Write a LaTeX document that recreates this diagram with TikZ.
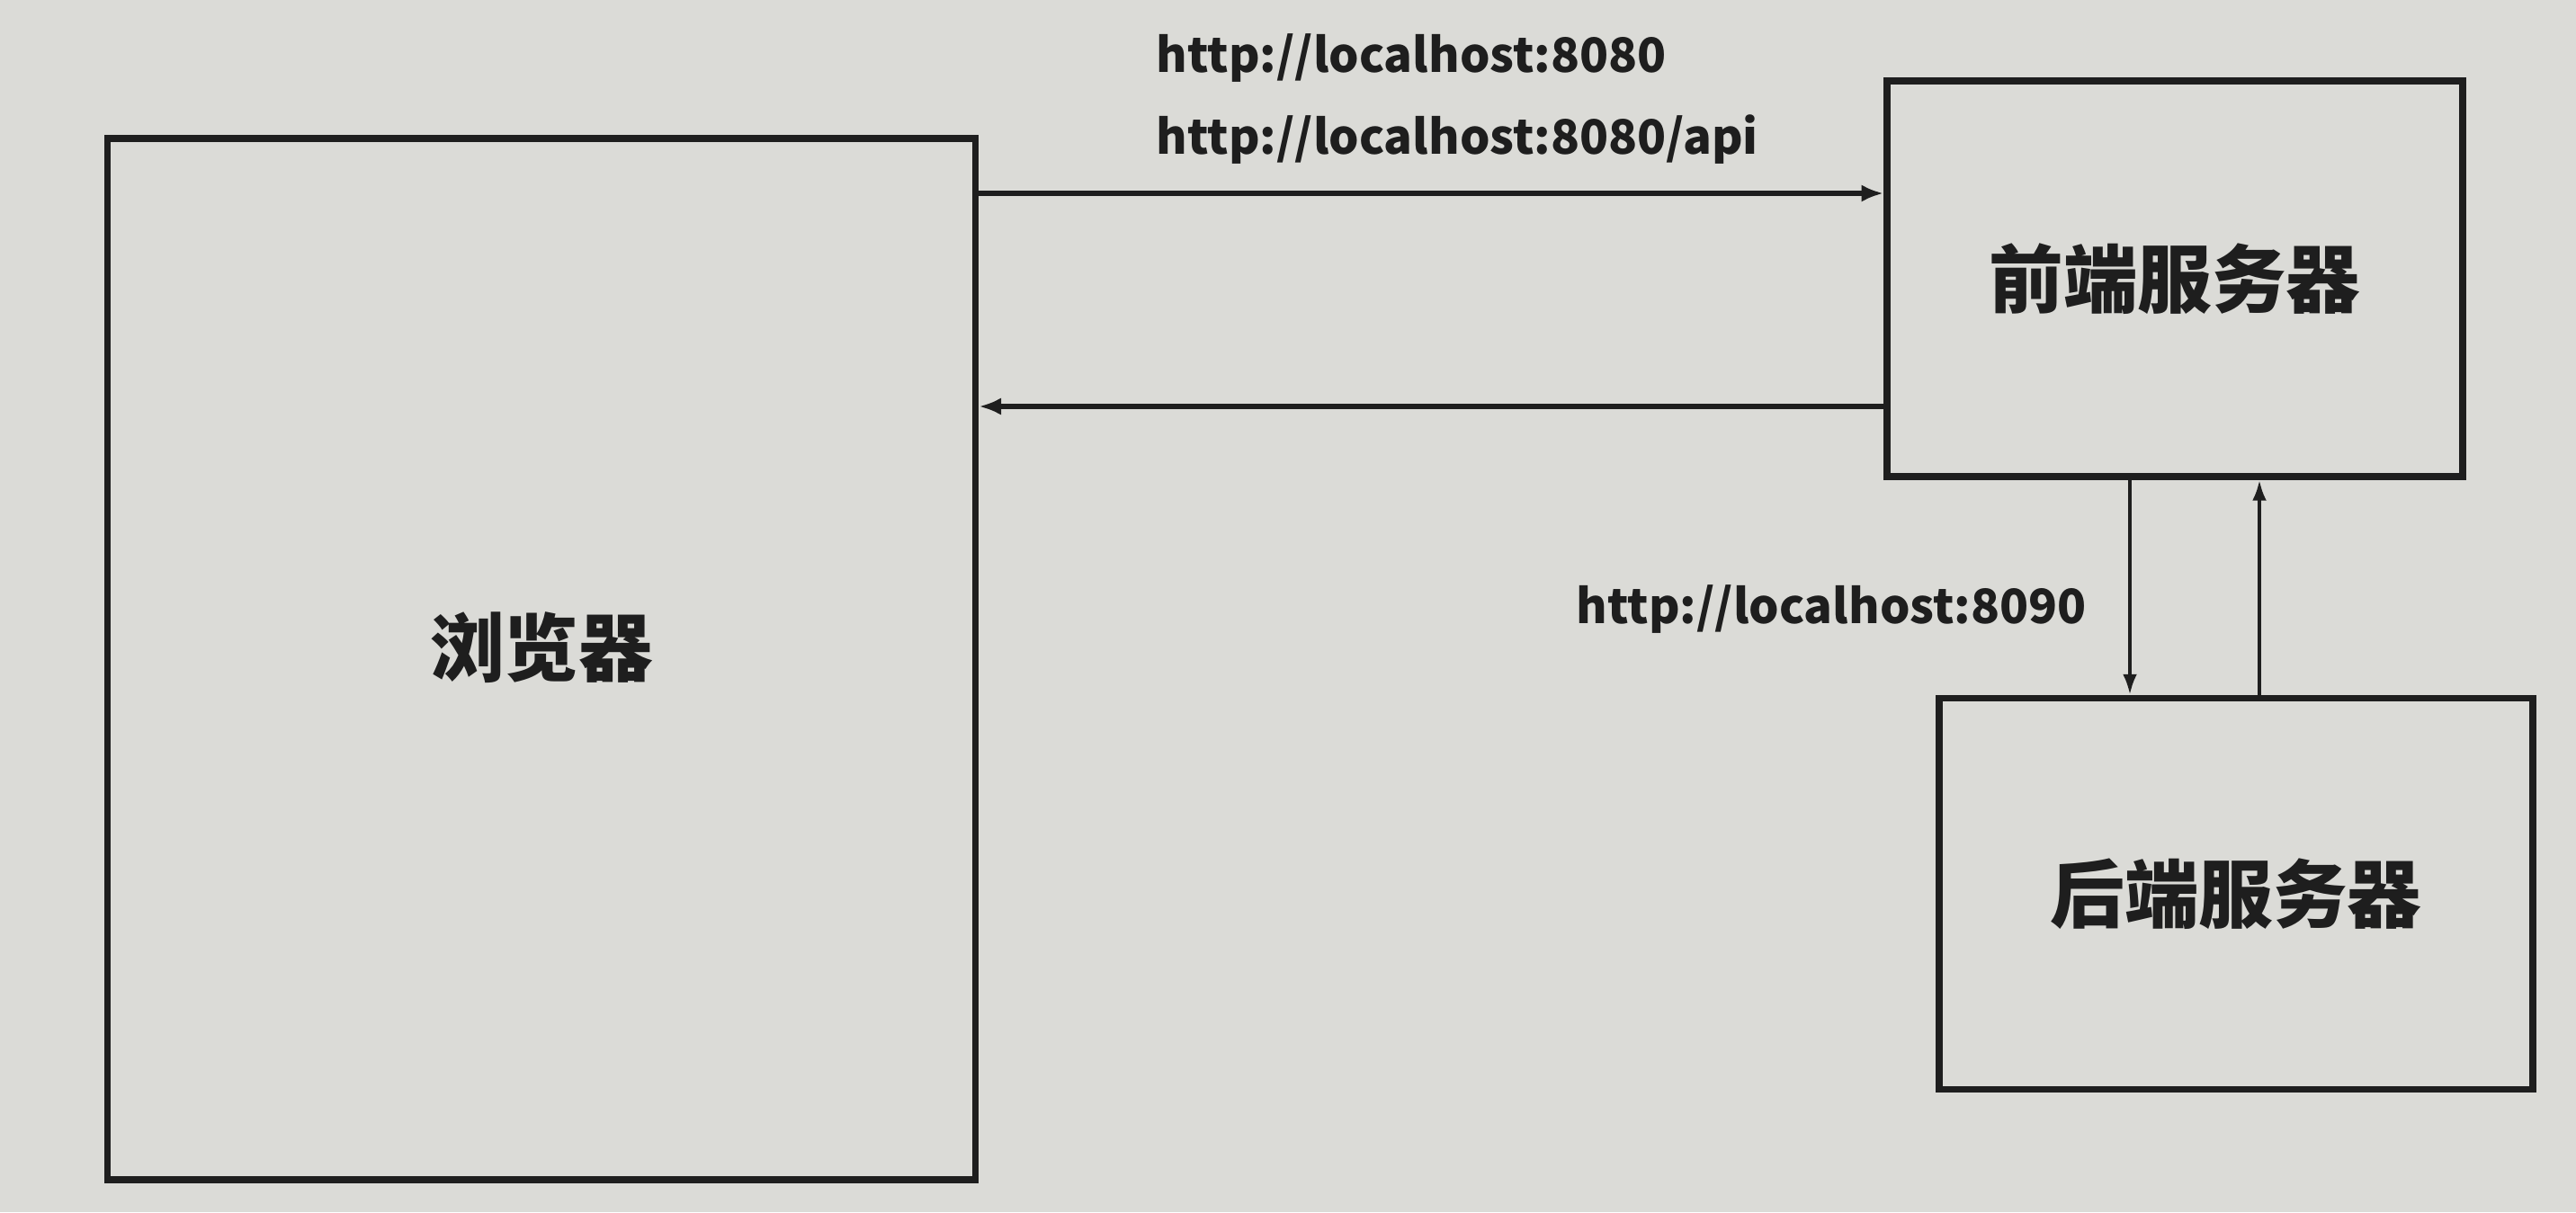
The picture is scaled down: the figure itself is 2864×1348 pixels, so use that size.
\documentclass[tikz,border=0pt]{standalone}
\usepackage{fontspec}
\newfontfamily\cjk{Noto Sans CJK SC}
\usetikzlibrary{arrows.meta}
\definecolor{paper}{RGB}{219,219,215}
\definecolor{ink}{RGB}{30,30,30}
\tikzset{
  box/.style={draw=ink, line width=2.2pt, rectangle, inner sep=0pt},
  lbl/.style={font=\cjk\bfseries\fontsize{23.5}{28}\selectfont, text=ink, inner sep=0pt},
  arr/.style={draw=ink, line width=1.6pt, -{Latex[length=7pt,width=5.5pt]}},
  varr/.style={draw=ink, line width=1.1pt, -{Latex[length=6.5pt,width=4.5pt]}},
  url/.style={font=\cjk\bfseries\fontsize{15}{18}\selectfont, text=ink, inner sep=0pt}
}
\begin{document}
\begin{tikzpicture}[x=0.01cm,y=-0.01cm]
\fill[paper] (0,0) rectangle (2864,1348);
\useasboundingbox (0,0) rectangle (2864,1348);
\node[box, minimum width=965*0.01cm, minimum height=1158*0.01cm] (browser) at (602,733) {};
\node[lbl] (browsertext) at (602,720) {浏览器};
\node[box, lbl, minimum width=640*0.01cm, minimum height=440*0.01cm] (front) at (2418,310) {前端服务器};
\node[box, lbl, minimum width=660*0.01cm, minimum height=435*0.01cm] (back) at (2486,994) {后端服务器};
\node[url, anchor=west] (u1) at (1285,65) {http://localhost:8080};
\node[url, anchor=west] (u2) at (1285,155) {http://localhost:8080/api};
\node[url, anchor=west] (u3) at (1752,678) {http://localhost:8090};
\draw[arr] (browser.east |- 0,215) -- (front.west |- 0,215);
\draw[arr] (front.west |- 0,452) -- (browser.east |- 0,452);
\draw[varr] (front.south -| 2368,0) -- (back.north -| 2368,0);
\draw[varr] (back.north -| 2512,0) -- (front.south -| 2512,0);
\end{tikzpicture}
\end{document}
